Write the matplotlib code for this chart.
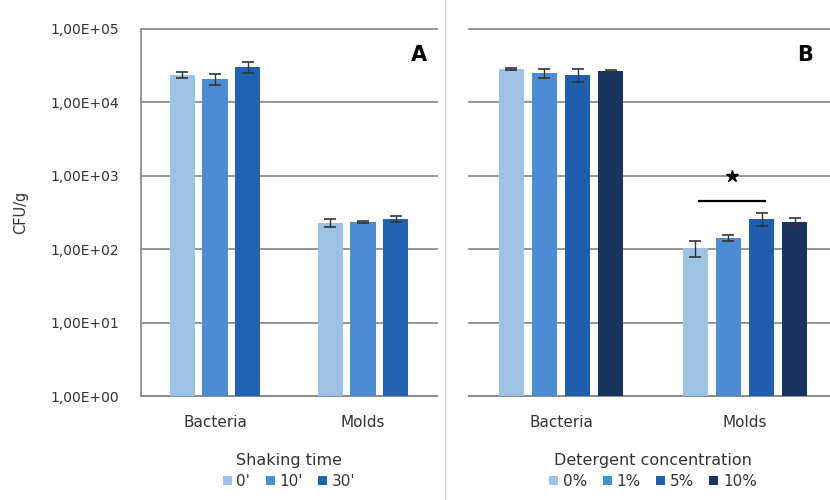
import numpy as np
import matplotlib.pyplot as plt
from matplotlib.ticker import FixedLocator, FuncFormatter, NullLocator

plt.rcParams['font.family'] = ['DejaVu Sans']

# --------------------
# Data
# --------------------
categories = ["Bacteria", "Molds"]

shaking_labels = ["0'", "10'", "30'"]
shaking_vals = [[23600, 228], [20800, 235], [30300, 258]]
shaking_err = [[2400, 30], [3600, 5], [5200, 25]]

deterg_labels = ["0%", "1%", "5%", "10%"]
deterg_vals = [[28500, 104], [25100, 142], [23600, 258], [26800, 235]]
deterg_err = [[1000, 25], [3400, 14], [4900, 53], [500, 31]]

colors_a = ["#9cc2e6", "#4a8dd3", "#1f63b2"]
colors_b = ["#9cc2e6", "#4a8dd3", "#1f5fae", "#17355f"]

grid_c = "#8c8c8c"
txt_c = "#333333"


def sci_label(v, pos):
    e = int(round(np.log10(v)))
    return "1,00E+%02d" % e


def draw_panel(ax, labels, vals, errs, colors, step, width):
    n = len(labels)
    x = np.arange(len(categories))
    for i in range(n):
        off = (i - (n - 1) / 2) * step
        ax.bar(x + off, vals[i], width, color=colors[i], label=labels[i], zorder=3)
        ax.errorbar(x + off, vals[i], yerr=errs[i], fmt="none", ecolor=txt_c,
                    elinewidth=1, capsize=4, capthick=1.2, zorder=4)
    ax.set_yscale("log")
    ax.set_ylim(1, 1e5)
    ax.set_xlim(-0.5, 1.5)
    ax.yaxis.set_major_locator(FixedLocator([1, 10, 100, 1e3, 1e4, 1e5]))
    ax.yaxis.set_minor_locator(NullLocator())
    ax.grid(axis="y", color=grid_c, linewidth=1.3, zorder=0)
    for gl in ax.get_ygridlines():
        gl.set_clip_on(False)
    ax.set_xticks(x)
    ax.set_xticklabels(categories, fontsize=11, color=txt_c)
    ax.tick_params(axis="x", length=0, pad=14)
    ax.tick_params(axis="y", length=0)
    for s in ["top", "right", "left"]:
        ax.spines[s].set_visible(False)
    ax.spines["bottom"].set_color(grid_c)
    ax.spines["bottom"].set_linewidth(1.3)


def add_legend(ax, title, ncol):
    leg = ax.legend(title=title, loc="upper center", bbox_to_anchor=(0.5, -0.135),
                    ncol=ncol, frameon=False, fontsize=11, title_fontsize=11.5,
                    handlelength=0.6, handleheight=0.6, handletextpad=0.3,
                    columnspacing=1.0, borderpad=0, labelspacing=0.2)
    leg.get_title().set_color(txt_c)
    leg._legend_box.sep = 4
    for t in leg.get_texts():
        t.set_color(txt_c)
    return leg


fig = plt.figure(figsize=(8.3, 5.0), dpi=100)

# Panel A
axA = fig.add_axes([141 / 830, 104 / 500, 296 / 830, 367 / 500])
draw_panel(axA, shaking_labels, shaking_vals, shaking_err, colors_a, 0.22, 0.17)
axA.spines["left"].set_visible(True)
axA.spines["left"].set_color(grid_c)
axA.spines["left"].set_linewidth(1.3)
axA.yaxis.set_major_formatter(FuncFormatter(sci_label))
axA.tick_params(axis="y", labelsize=10, labelcolor=txt_c, pad=16)
axA.set_ylabel("CFU/g", fontsize=10.5, color=txt_c, labelpad=16)
axA.text(0.965, 0.93, "A", transform=axA.transAxes, ha="right", va="center",
         fontsize=15, fontweight="bold")
add_legend(axA, "Shaking time", 3)

# Panel B
axB = fig.add_axes([469 / 830, 104 / 500, 368 / 830, 367 / 500])
draw_panel(axB, deterg_labels, deterg_vals, deterg_err, colors_b, 0.18, 0.135)
axB.tick_params(axis="y", labelleft=False)
axB.text(0.935, 0.93, "B", transform=axB.transAxes, ha="right", va="center",
         fontsize=15, fontweight="bold")
# significance marker between 0% and 5% molds
xs = 1 + np.array([-1.4, 0.6]) * 0.18
axB.plot(xs, [450, 450], color="black", linewidth=1.6, zorder=5)
axB.plot([xs.mean()], [1000], marker="*", color="black", markersize=9, zorder=5)
add_legend(axB, "Detergent concentration", 4)

# separator between panels
fig.add_artist(plt.Line2D([445 / 830, 445 / 830], [0, 1], color="#d0d0d0", linewidth=1))

fig.savefig("out.png", dpi=100)
